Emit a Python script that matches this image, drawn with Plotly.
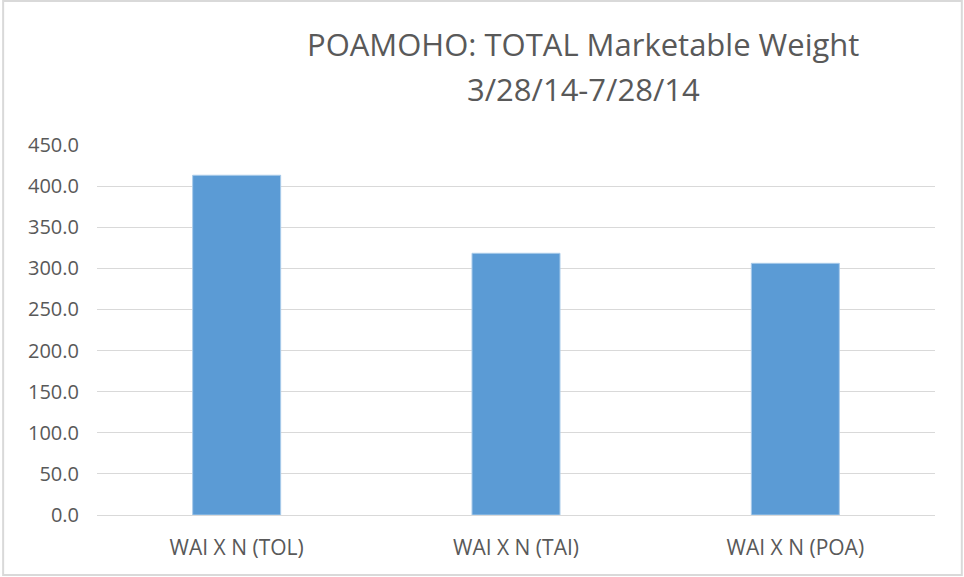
import plotly.graph_objects as go

# data
categories = ["WAI X N (TOL)", "WAI X N (TAI)", "WAI X N (POA)"]
weights = [413.2, 318.3, 306.1]
y_ticks = [0, 50, 100, 150, 200, 250, 300, 350, 400, 450]
title_lines = ["POAMOHO: TOTAL Marketable Weight", "3/28/14-7/28/14"]

TEXT = "#595959"
GRID = "#D9D9D9"
BAR = "#5B9BD5"
FONT = "Open Sans"

fig = go.Figure(go.Bar(
    x=categories,
    y=weights,
    width=0.315,
    marker=dict(color=BAR, line=dict(color="#A9CBEA", width=1)),
    hoverinfo="x+y",
))

# two-line title, placed as annotations to get Excel-like line spacing
fig.add_annotation(text=title_lines[0], xref="paper", yref="paper", x=0.58, y=1.274,
                   xanchor="center", yanchor="middle", showarrow=False,
                   font=dict(family=FONT, size=31, color=TEXT))
fig.add_annotation(text=title_lines[1], xref="paper", yref="paper", x=0.58, y=1.152,
                   xanchor="center", yanchor="middle", showarrow=False,
                   font=dict(family=FONT, size=31, color=TEXT))

# chart area border
fig.add_shape(type="rect", xref="paper", yref="paper",
              x0=-0.112, x1=1.032, y0=-0.162, y1=1.389,
              line=dict(color=GRID, width=2), fillcolor="rgba(0,0,0,0)", layer="below")

fig.update_layout(
    width=964,
    height=577,
    paper_bgcolor="white",
    plot_bgcolor="white",
    font=dict(family=FONT, color=TEXT, size=19),
    margin=dict(l=97, r=29, t=145, b=62),
    showlegend=False,
    bargap=0.685,
    xaxis=dict(
        showgrid=False,
        showline=False,
        ticks="",
        ticklabelstandoff=18,
        tickfont=dict(size=21, color=TEXT),
    ),
    yaxis=dict(
        range=[0, 450],
        tickvals=y_ticks,
        tickformat=".1f",
        gridcolor=GRID,
        gridwidth=1,
        zeroline=True,
        zerolinecolor=GRID,
        zerolinewidth=1,
        showline=False,
        ticks="",
        ticklabelstandoff=17,
        tickfont=dict(size=20, color=TEXT),
    ),
)

# drop the default page margin so the figure sits at the window origin
fig.write_html("out.html", config={"displayModeBar": False},
               post_script="document.body.style.margin='0';")
